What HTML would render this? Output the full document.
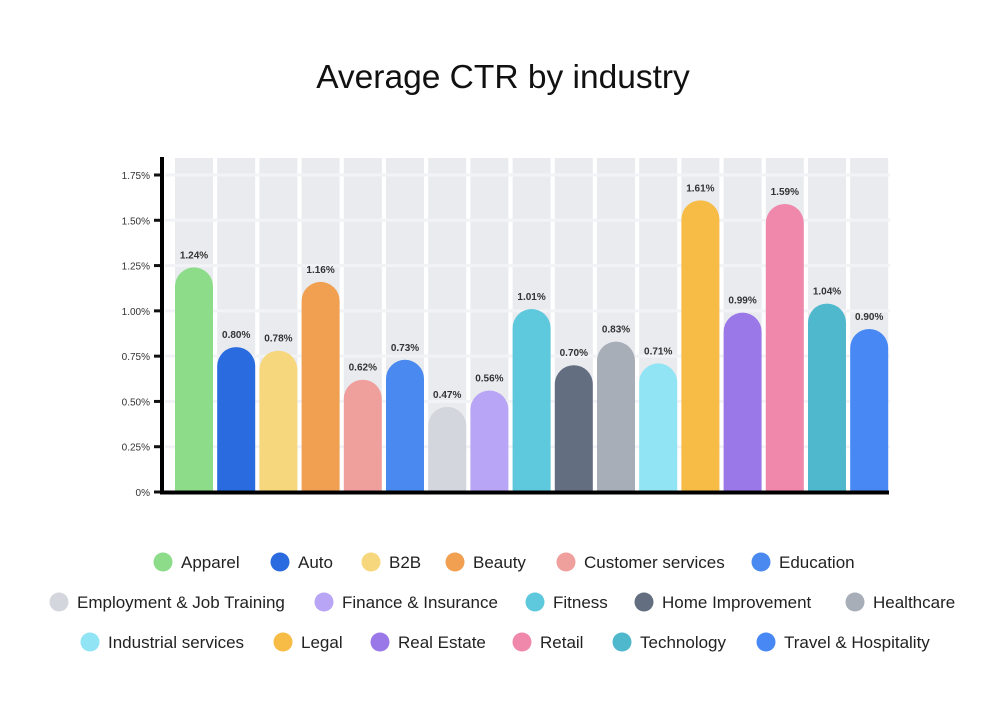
<!DOCTYPE html>
<html><head><meta charset="utf-8"><style>
body{margin:0;background:#fff;font-family:"Liberation Sans",sans-serif;}
</style></head><body>
<svg id="chart" width="1000" height="722" xmlns="http://www.w3.org/2000/svg">
<text x="503" y="88" text-anchor="middle" font-size="33.5" fill="#111" font-family="Liberation Sans, sans-serif">Average CTR by industry</text>
<g id="grid"></g><g id="bars"></g><g id="axis"></g><g id="legend"></g>
</svg>
<script>
const categories=["Apparel","Auto","B2B","Beauty","Customer services","Education","Employment & Job Training","Finance & Insurance","Fitness","Home Improvement","Healthcare","Industrial services","Legal","Real Estate","Retail","Technology","Travel & Hospitality"];
const values=[1.24,0.80,0.78,1.16,0.62,0.73,0.47,0.56,1.01,0.70,0.83,0.71,1.61,0.99,1.59,1.04,0.90];
const colors=["#8ddc8a","#2b6be0","#f7d77e","#f0a050","#f0a09c","#4a8af0","#d3d6dc","#b9a5f5","#5ec8dc","#636e80","#a8aeb8","#90e4f4","#f6bc45","#9a78e8","#ef88aa","#50b8cc","#4888f5"];
const ticks=[0,0.25,0.5,0.75,1,1.25,1.5,1.75];
const tickLabels=["0%","0.25%","0.50%","0.75%","1.00%","1.25%","1.50%","1.75%"];
const legendRows=[[0,1,2,3,4,5],[6,7,8,9,10],[11,12,13,14,15,16]];
const legendX=[[163,280,371,455,566,761],[59,324,535,644,855],[90,283,380,522,622,766]];
const NS="http://www.w3.org/2000/svg";
const y0=492,yTop=175,maxV=1.75,x0=175,pitch=42.2,bw=38;
function yS(v){return y0-(v/maxV)*(y0-yTop);}
function xS(i){return x0+i*pitch;}
function mk(t,a,p){const e=document.createElementNS(NS,t);for(const k in a)e.setAttribute(k,a[k]);p.appendChild(e);return e;}
const grid=document.getElementById('grid'),bars=document.getElementById('bars'),axis=document.getElementById('axis'),legend=document.getElementById('legend');
categories.forEach((c,i)=>{
  const r=mk('rect',{x:xS(i),y:158,width:bw,height:y0-158,fill:'#e9ebef'},grid);
  
  
});
ticks.forEach((t,i)=>{
  if(t>0){const l=mk('line',{x1:165,x2:890,y1:yS(t),y2:yS(t),stroke:'#f2f3f6','stroke-width':3},grid);
  
  }
  const tk=mk('line',{x1:154,x2:162,y1:yS(t),y2:yS(t),stroke:'#111','stroke-width':3},axis);
  
  
  const tx=mk('text',{x:150,y:yS(t)+4,'text-anchor':'end','font-size':10,fill:'#333'},axis);
  tx.textContent=tickLabels[i];
  
  
});
values.forEach((v,i)=>{
  const x=xS(i),top=yS(v),r=bw/2,h=y0-top;
  const rr=Math.min(r,h);
  const p=mk('path',{d:`M${x},${y0} L${x},${top+rr} A${r},${rr} 0 0 1 ${x+bw},${top+rr} L${x+bw},${y0} Z`,fill:colors[i]},bars);
  
  
  const t=mk('text',{x:x+bw/2,y:top-9,'text-anchor':'middle','font-size':10,'font-weight':'bold',fill:'#333'},bars);
  t.textContent=v.toFixed(2)+'%';
  
  
});
const ya=mk('line',{x1:162,x2:162,y1:157,y2:494,stroke:'#000','stroke-width':4},axis);


const xa=mk('line',{x1:160,x2:889,y1:492.5,y2:492.5,stroke:'#000','stroke-width':4},axis);


legendRows.forEach((row,ri)=>{
  const cy=562+ri*40;
  row.forEach((ci,j)=>{
    const cx=legendX[ri][j];
    const g=mk('g',{},legend);
    
    
    mk('circle',{cx:cx,cy:cy,r:9.5,fill:colors[ci]},g);
    const t=mk('text',{x:cx+18,y:cy+6,'font-size':17,fill:'#222'},g);
    t.textContent=categories[ci];
  });
});
</script>
</body></html>
